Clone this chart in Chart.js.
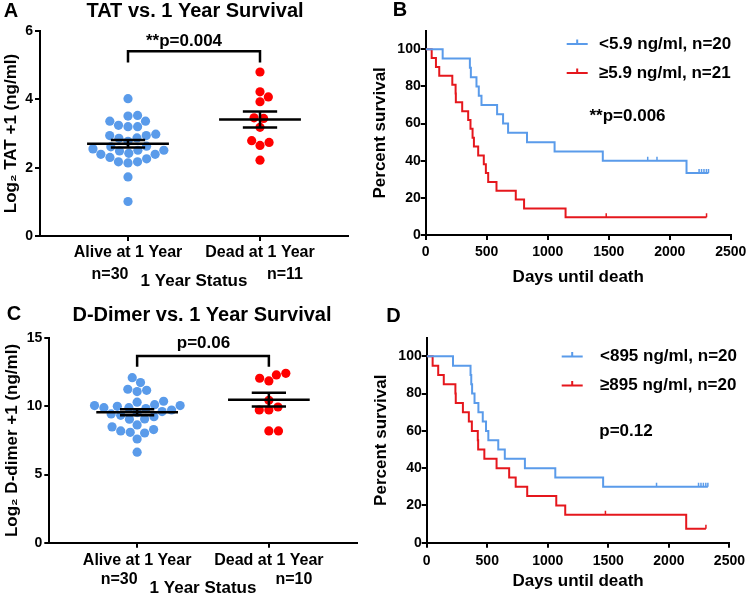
<!DOCTYPE html>
<html>
<head>
<meta charset="utf-8">
<title>TAT / D-dimer vs 1 year survival</title>
<script src="https://cdn.jsdelivr.net/npm/chart.js@4.4.1/dist/chart.umd.min.js"></script>
<style>
  body { margin: 0; background: #fff; }
  #wrap { position: relative; width: 750px; height: 595px; overflow: hidden; }
  canvas { position: absolute; }
</style>
</head>
<body>
<div id="wrap">
  <canvas id="chartA" width="375" height="295" style="left:0;top:0"></canvas>
  <canvas id="chartB" width="384" height="295" style="left:366px;top:0"></canvas>
  <canvas id="chartC" width="375" height="305" style="left:0;top:295px"></canvas>
  <canvas id="chartD" width="384" height="305" style="left:366px;top:295px"></canvas>
</div>
<script>
const FONT = '"Liberation Sans", Arial, Helvetica, sans-serif';
const BLUE = '#5a9bea';
const RED_DOT = '#ff0000';
const RED_LINE = '#e5171d';

Chart.defaults.font.family = FONT;
Chart.defaults.color = '#000';

// ---- data ----
const groupLabels = ['Alive at 1 Year', 'Dead at 1 Year'];

// log2(TAT + 1), ng/ml
const tatAlive = [4.02, 3.53, 3.51, 3.36, 3.36, 3.20, 3.20, 3.24, 2.98, 2.94, 2.94, 2.87, 2.86, 2.77, 2.61,
  2.51, 2.51, 2.55, 2.63, 2.49, 2.42, 2.39, 2.30, 2.26, 2.39, 2.17, 2.14, 2.17, 1.73, 1.01];
const tatDead = [4.80, 4.07, 4.22, 3.93, 3.46, 3.44, 3.18, 2.74, 2.79, 2.65, 2.22];

// log2(D-dimer + 1), ng/ml
const ddAlive = [12.11, 11.26, 11.09, 11.18, 11.75, 10.38, 10.13, 10.06, 9.91, 9.84, 9.62, 9.55, 9.74, 9.91,
  10.01, 10.06, 10.31, 9.35, 9.08, 9.06, 9.25, 9.45, 8.50, 8.64, 8.20, 8.05, 8.10, 8.30, 7.61, 6.64];
const ddDead = [12.31, 11.87, 12.07, 12.43, 10.45, 9.74, 9.74, 9.96, 8.20, 8.20];

// survival: days of follow-up, 1 = died, 0 = censored
const tatLowDays = [139, 362, 370, 416, 435, 457, 585, 634, 675, 830, 1056, 1451, 1819, 1895, 2137, 2240, 2260, 2280, 2300, 2317];
const tatLowDied = [1, 1, 1, 1, 1, 1, 1, 1, 1, 1, 1, 1, 0, 0, 1, 0, 0, 0, 0, 0];
const tatHighDays = [49, 84, 111, 218, 245, 247, 299, 348, 367, 384, 395, 430, 476, 493, 512, 580, 738, 806, 1146, 1479, 2301];
const tatHighDied = [1, 1, 1, 1, 1, 1, 1, 1, 1, 1, 1, 1, 1, 1, 1, 1, 1, 1, 1, 0, 0];

const ddLowDays = [217, 362, 368, 375, 395, 427, 463, 490, 509, 591, 645, 811, 1062, 1457, 1898, 2245, 2265, 2285, 2305, 2322];
const ddLowDied = [1, 1, 1, 1, 1, 1, 1, 1, 1, 1, 1, 1, 1, 1, 0, 0, 0, 0, 0, 0];
const ddHighDays = [49, 95, 141, 237, 240, 299, 348, 373, 422, 425, 476, 577, 681, 735, 830, 1070, 1144, 1476, 2143, 2306];
const ddHighDied = [1, 1, 1, 1, 1, 1, 1, 1, 1, 1, 1, 1, 1, 1, 1, 1, 1, 0, 1, 0];

// ---- helpers ----
function bold(size) {
  return { family: FONT, size: size, weight: 'bold' };
}

function drawText(ctx, text, x, y, size, align) {
  ctx.save();
  ctx.font = 'bold ' + size + 'px ' + FONT;
  ctx.fillStyle = '#000';
  ctx.textAlign = align || 'center';
  ctx.textBaseline = 'middle';
  ctx.fillText(text, x, y);
  ctx.restore();
}

function meanSem(v) {
  const n = v.length;
  const m = v.reduce((a, b) => a + b, 0) / n;
  const sd = Math.sqrt(v.reduce((a, b) => a + (b - m) * (b - m), 0) / (n - 1));
  return { m: m, sem: sd / Math.sqrt(n) };
}

// simple beeswarm: place each dot as close to the column centre as it can go without overlap
function swarm(vals, center, pxX, pxY, gap) {
  const order = vals.map((v, i) => i).sort((a, b) => vals[a] - vals[b]);
  const placed = [];
  const out = new Array(vals.length);
  let pref = 1;
  order.forEach(i => {
    const py = vals[i] * pxY;
    const cands = [0];
    placed.forEach(p => {
      const dy = Math.abs(p.y - py);
      if (dy < gap) {
        const w = Math.sqrt(gap * gap - dy * dy);
        cands.push(p.x - w, p.x + w);
      }
    });
    cands.sort((a, b) => (Math.abs(a) - Math.abs(b)) || (b - a) * pref);
    let px = 0;
    for (const c of cands) {
      if (placed.every(p => (p.x - c) * (p.x - c) + (p.y - py) * (p.y - py) >= gap * gap - 0.01)) { px = c; break; }
    }
    if (px !== 0) pref = -pref;
    placed.push({ x: px, y: py });
    out[i] = { x: center + px / pxX, y: vals[i] };
  });
  return out;
}

function kaplanMeier(days, died) {
  const idx = days.map((d, i) => i).sort((a, b) => days[a] - days[b] || died[b] - died[a]);
  let atRisk = days.length;
  let s = 100;
  const curve = [{ x: 0, y: 100 }];
  const marks = [];
  idx.forEach(i => {
    if (died[i]) {
      s = s * (atRisk - 1) / atRisk;
      curve.push({ x: days[i], y: s });
    } else {
      marks.push({ x: days[i], y: s });
    }
    atRisk--;
  });
  curve.push({ x: days[idx[idx.length - 1]], y: s });
  return { curve: curve, marks: marks };
}

function axisLook() {
  return {
    grid: { drawOnChartArea: false, drawTicks: true, tickLength: 5, color: '#000', lineWidth: 2 },
    border: { display: true, color: '#000', width: 2 }
  };
}

// ---- dot plot (A, C) ----
function dotPlot(id, cfg) {
  const groups = [
    { vals: cfg.alive, center: 1, color: BLUE },
    { vals: cfg.dead, center: 2, color: RED_DOT }
  ];

  const chart = new Chart(document.getElementById(id), {
    type: 'scatter',
    data: {
      datasets: groups.map(g => ({
        data: g.vals.map(v => ({ x: g.center, y: v })),
        pointBackgroundColor: g.color,
        backgroundColor: g.color,
        pointBorderWidth: 0,
        borderWidth: 0,
        pointRadius: 4.6,
        pointHoverRadius: 4.6
      }))
    },
    options: {
      responsive: false,
      animation: false,
      events: [],
      layout: { padding: cfg.pad },
      plugins: { legend: { display: false }, tooltip: { enabled: false } },
      scales: {
        x: Object.assign(axisLook(), {
          type: 'linear',
          min: 1 / 3,
          max: 8 / 3,
          afterBuildTicks: s => { s.ticks = [{ value: 1 }, { value: 2 }]; },
          afterFit: s => { s.height = cfg.xHeight; },
          ticks: { callback: v => groupLabels[v - 1], font: bold(16), padding: cfg.xTickPad, maxRotation: 0, autoSkip: false },
          title: { display: true, text: '1 Year Status', font: bold(17), padding: { top: 0, bottom: cfg.xTitlePad } }
        }),
        y: Object.assign(axisLook(), {
          min: 0,
          max: cfg.yMax,
          afterFit: s => { s.width = cfg.yWidth; },
          ticks: { stepSize: cfg.yStep, font: bold(14), padding: 2 },
          title: { display: true, text: cfg.yTitle, font: bold(17), padding: { top: cfg.yTitlePad, bottom: 0 } }
        })
      }
    },
    plugins: [{
      id: 'meanSem',
      afterDatasetsDraw(c) {
        const ctx = c.ctx, x = c.scales.x, y = c.scales.y;
        ctx.save();
        ctx.strokeStyle = '#000';
        ctx.lineWidth = 2.5;
        ctx.beginPath();
        groups.forEach(g => {
          const st = meanSem(g.vals);
          const ym = y.getPixelForValue(st.m), yl = y.getPixelForValue(st.m - st.sem), yh = y.getPixelForValue(st.m + st.sem);
          ctx.moveTo(x.getPixelForValue(g.center - 0.31), ym);
          ctx.lineTo(x.getPixelForValue(g.center + 0.31), ym);
          ctx.moveTo(x.getPixelForValue(g.center - 0.13), yl);
          ctx.lineTo(x.getPixelForValue(g.center + 0.13), yl);
          ctx.moveTo(x.getPixelForValue(g.center - 0.13), yh);
          ctx.lineTo(x.getPixelForValue(g.center + 0.13), yh);
          ctx.moveTo(x.getPixelForValue(g.center), yl);
          ctx.lineTo(x.getPixelForValue(g.center), yh);
        });
        // significance bracket
        const bt = y.getPixelForValue(cfg.bracketY), bb = y.getPixelForValue(cfg.bracketY - cfg.bracketDrop);
        ctx.moveTo(x.getPixelForValue(1), bb);
        ctx.lineTo(x.getPixelForValue(1), bt);
        ctx.lineTo(x.getPixelForValue(2), bt);
        ctx.lineTo(x.getPixelForValue(2), bb);
        ctx.stroke();
        ctx.restore();
      },
      afterDraw(c) {
        const ctx = c.ctx, x = c.scales.x;
        drawText(ctx, cfg.letter, cfg.letterX, cfg.letterY, 20);
        drawText(ctx, cfg.title, cfg.titleX, cfg.titleY, 20);
        drawText(ctx, cfg.pText, cfg.pX, cfg.pY, 17);
        drawText(ctx, 'n=' + cfg.alive.length, x.getPixelForValue(1) - 18, cfg.nY, 16);
        drawText(ctx, 'n=' + cfg.dead.length, x.getPixelForValue(2) + 25, cfg.nY, 16);
      }
    }]
  });

  const xs = chart.scales.x, ys = chart.scales.y;
  const pxX = xs.getPixelForValue(2) - xs.getPixelForValue(1);
  const pxY = ys.getPixelForValue(0) - ys.getPixelForValue(1);
  groups.forEach((g, k) => { chart.data.datasets[k].data = swarm(g.vals, g.center, pxX, pxY, 9.6); });
  chart.update('none');
}

// ---- survival plot (B, D) ----
function survivalPlot(id, cfg) {
  const datasets = [];
  cfg.arms.forEach(a => {
    const km = kaplanMeier(a.days, a.died);
    datasets.push({
      data: km.curve, showLine: true, stepped: true, borderColor: a.color, borderWidth: 2,
      pointRadius: 0, pointHoverRadius: 0, fill: false
    });
    datasets.push({
      data: km.marks, showLine: false, pointStyle: 'dash', pointRotation: -90, pointRadius: 4,
      pointHoverRadius: 4, pointBorderWidth: 1.5, pointBorderColor: a.color, borderColor: a.color
    });
  });

  new Chart(document.getElementById(id), {
    type: 'scatter',
    data: { datasets: datasets },
    options: {
      responsive: false,
      animation: false,
      events: [],
      layout: { padding: cfg.pad },
      plugins: { legend: { display: false }, tooltip: { enabled: false } },
      scales: {
        x: Object.assign(axisLook(), {
          type: 'linear',
          min: 0,
          max: 2500,
          afterFit: s => { s.height = cfg.xHeight; },
          ticks: { stepSize: 500, font: bold(14), padding: cfg.xTickPad, maxRotation: 0, callback: v => String(v) },
          title: { display: true, text: 'Days until death', font: bold(17), padding: { top: 0, bottom: cfg.xTitlePad } }
        }),
        y: Object.assign(axisLook(), {
          min: 0,
          max: 110,
          afterFit: s => { s.width = cfg.yWidth; },
          afterBuildTicks: s => { s.ticks = s.ticks.filter(t => t.value <= 100); },
          ticks: { stepSize: 20, font: bold(14), padding: 0 },
          title: { display: true, text: 'Percent survival', font: bold(17), padding: { top: cfg.yTitlePad, bottom: 0 } }
        })
      }
    },
    plugins: [{
      id: 'kmText',
      afterDraw(c) {
        const ctx = c.ctx;
        drawText(ctx, cfg.letter, cfg.letterX, cfg.letterY, 20);
        cfg.arms.forEach((a, k) => {
          const ly = cfg.legendY[k];
          ctx.save();
          ctx.strokeStyle = a.color;
          ctx.lineWidth = 2;
          ctx.beginPath();
          ctx.moveTo(cfg.legendX, ly);
          ctx.lineTo(cfg.legendX + 21, ly);
          ctx.moveTo(cfg.legendX + 10.5, ly);
          ctx.lineTo(cfg.legendX + 10.5, ly - 4.5);
          ctx.stroke();
          ctx.restore();
          drawText(ctx, a.label + a.days.length, cfg.legendTextX, ly, 17, 'left');
        });
        drawText(ctx, cfg.pText, cfg.pX, cfg.pY, 17);
      }
    }]
  });
}

// ---- panels ----
dotPlot('chartA', {
  alive: tatAlive, dead: tatDead,
  yMax: 6, yStep: 2, yTitle: 'Log\u2082 TAT +1 (ng/ml)',
  pad: { top: 31, right: 27, left: 0, bottom: 0 },
  yWidth: 40, xHeight: 59, xTickPad: 2, xTitlePad: 3, yTitlePad: 1,
  letter: 'A', letterX: 11, letterY: 11,
  title: 'TAT vs. 1 Year Survival', titleX: 195, titleY: 11,
  pText: '**p=0.004', pX: 184, pY: 41,
  bracketY: 5.41, bracketDrop: 0.33,
  nY: 275
});

dotPlot('chartC', {
  alive: ddAlive, dead: ddDead,
  yMax: 15, yStep: 5, yTitle: 'Log\u2082 D-dimer +1 (ng/ml)',
  pad: { top: 43.3, right: 18.3, left: 0, bottom: 0 },
  yWidth: 49.3, xHeight: 57.3, xTickPad: 3, xTitlePad: 1.8, yTitlePad: 2,
  letter: 'C', letterX: 14, letterY: 19,
  title: 'D-Dimer vs. 1 Year Survival', titleX: 202, titleY: 20,
  pText: 'p=0.06', pX: 203.5, pY: 48.5,
  bracketY: 13.71, bracketDrop: 0.79,
  nY: 285
});

survivalPlot('chartB', {
  arms: [
    { days: tatLowDays, died: tatLowDied, color: BLUE, label: '<5.9 ng/ml, n=' },
    { days: tatHighDays, died: tatHighDied, color: RED_LINE, label: '\u22655.9 ng/ml, n=' }
  ],
  pad: { top: 30.7, right: 17.3, left: 0, bottom: 0 },
  yWidth: 59.7, xHeight: 60, xTickPad: 3.6, xTitlePad: 7.8, yTitlePad: 3.8,
  letter: 'B', letterX: 34, letterY: 10,
  legendX: 200.7, legendTextX: 233, legendY: [44, 73],
  pText: '**p=0.006', pX: 261.5, pY: 116
});

survivalPlot('chartD', {
  arms: [
    { days: ddLowDays, died: ddLowDied, color: BLUE, label: '<895 ng/ml, n=' },
    { days: ddHighDays, died: ddHighDied, color: RED_LINE, label: '\u2265895 ng/ml, n=' }
  ],
  pad: { top: 42.7, right: 17.3, left: 0, bottom: 0 },
  yWidth: 60.7, xHeight: 57.3, xTickPad: 5, xTitlePad: 8.1, yTitlePad: 4.8,
  letter: 'D', letterX: 27.5, letterY: 21.5,
  legendX: 195.7, legendTextX: 234, legendY: [61.5, 90.5],
  pText: 'p=0.12', pX: 260, pY: 136.7
});
</script>
</body>
</html>
